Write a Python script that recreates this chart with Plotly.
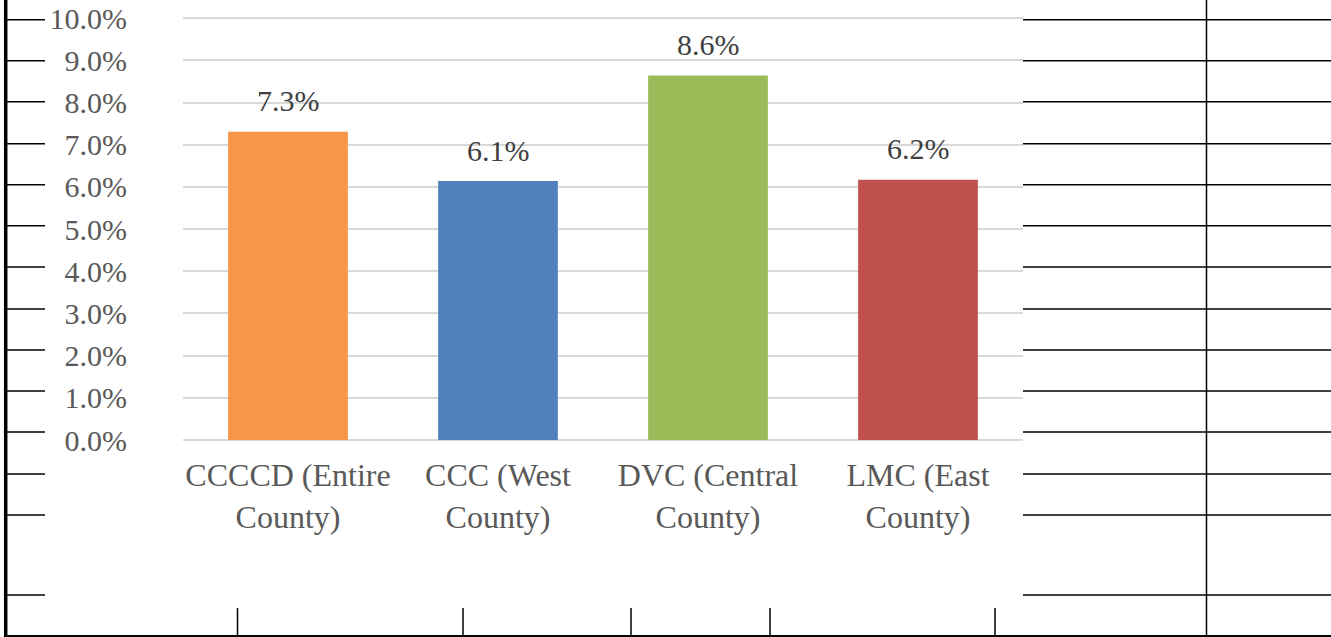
import plotly.graph_objects as go

categories = ["CCCCD (Entire<br>County)", "CCC (West<br>County)", "DVC (Central<br>County)", "LMC (East<br>County)"]
values = [0.0731, 0.0614, 0.0864, 0.0617]
colors = ["#F79646", "#4F81BD", "#9BBB59", "#C0504D"]
tick_vals = [i / 100 for i in range(0, 11)]
tick_text = [f"{i}.0%" for i in range(0, 11)]

W, H = 1331, 637
L, R, B = 183, 1023, 440
Y_TOP = 0.101
PX_PER_UNIT = (440 - 18.5) / 0.1
T = B - Y_TOP * PX_PER_UNIT
SERIF = "Liberation Serif"

fig = go.Figure(go.Bar(
    x=categories, y=values, marker_color=colors, marker_line_width=0,
    hoverinfo="x+y",
))

for c, v in zip(categories, values):
    fig.add_annotation(x=c, y=v, text=f"{v * 100:.1f}%", showarrow=False,
                       xref="x", yref="y", yanchor="middle", yshift=31,
                       font=dict(family=SERIF, size=30, color="#404040"))

def px_x(p):
    return (p - L) / (R - L)

def px_y(p):
    return (B - p) / (B - T)

shapes = []
def seg(x0, y0, x1, y1, w=1.5):
    shapes.append(dict(type="line", xref="paper", yref="paper",
                       x0=px_x(x0), y0=px_y(y0), x1=px_x(x1), y1=px_y(y1),
                       line=dict(color="black", width=w)))

row_y = [20, 61, 102, 144, 185, 226, 267, 309, 350, 391, 432, 474, 515, 595]
for y in row_y:
    seg(5, y, 45, y)
    seg(1023, y, 1331, y)
seg(5.7, 0, 5.7, 637, 3.5)
seg(1206.5, 0, 1206.5, 637, 1.5)
seg(5, 635.8, 1331, 635.8, 2)
for x in [237.5, 463, 631, 770, 995]:
    seg(x, 608, x, 637, 1.5)

fig.update_layout(
    width=W, height=H,
    margin=dict(l=L, r=W - R, t=T, b=H - B, pad=0, autoexpand=False),
    paper_bgcolor="white", plot_bgcolor="white",
    showlegend=False, bargap=0.43,
    font=dict(family=SERIF, size=30, color="#595959"),
    xaxis=dict(showgrid=False, showline=False, zeroline=False, ticks="",
               automargin=False,
               tickfont=dict(family=SERIF, size=32, color="#595959"),
               ticklabelstandoff=13),
    yaxis=dict(range=[0, Y_TOP], tickvals=tick_vals, ticktext=tick_text,
               automargin=False,
               showgrid=True, gridcolor="#D9D9D9", gridwidth=2,
               zeroline=True, zerolinecolor="#D9D9D9", zerolinewidth=2,
               showline=False, ticks="",
               tickfont=dict(family=SERIF, size=30, color="#595959"),
               ticklabelstandoff=55),
    shapes=shapes,
)

fig.write_html("out.html", config={"displayModeBar": False},
               post_script="document.body.style.margin='0';document.body.style.overflow='hidden';")
